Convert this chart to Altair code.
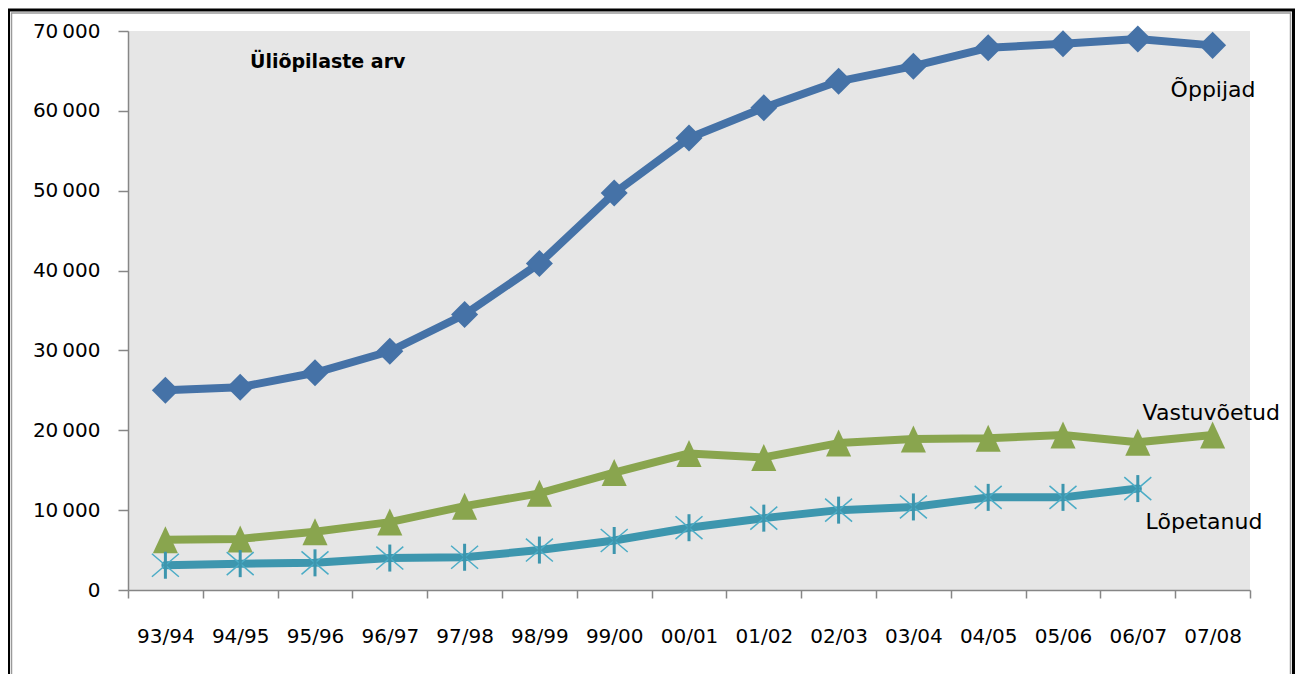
import altair as alt
import pandas as pd

years = ["93/94", "94/95", "95/96", "96/97", "97/98", "98/99", "99/00", "00/01",
         "01/02", "02/03", "03/04", "04/05", "05/06", "06/07", "07/08"]
oppijad = [25000, 25400, 27200, 29900, 34500, 40900, 49700, 56600, 60400, 63700,
           65600, 67900, 68400, 69000, 68200]
vastuvoetud = [6300, 6400, 7300, 8500, 10500, 12100, 14700, 17100, 16600, 18400,
               18900, 19000, 19400, 18500, 19400]
lopetanud = [3100, 3300, 3400, 4000, 4100, 5000, 6200, 7800, 9000, 10000,
             10400, 11600, 11600, 12700, None]

series_names = ["Õppijad", "Vastuvõetud", "Lõpetanud"]
series_colors = ["#4572A7", "#89A54E", "#3D96AE"]
label_values = [62600, 22200, 8500]
label_dx = [-42, -70, -67]

rows = []
for name, vals in zip(series_names, [oppijad, vastuvoetud, lopetanud]):
    for y, v in zip(years, vals):
        if v is not None:
            rows.append({"aasta": y, "seeria": name, "arv": v})
df = pd.DataFrame(rows)

FONT = "DejaVu Sans"

x_enc = alt.X("aasta:N", sort=years,
              scale=alt.Scale(type="band", paddingInner=0, paddingOuter=0),
              axis=alt.Axis(title=None, tickBand="extent", labelAngle=0,
                            labelFontSize=20, labelFont=FONT, labelColor="#000000",
                            domainColor="#868686", tickColor="#868686", tickSize=8,
                            labelPadding=28, domainWidth=1.5, tickWidth=1.5))
y_enc = alt.Y("arv:Q",
              scale=alt.Scale(domain=[0, 70000], nice=False),
              axis=alt.Axis(title=None, values=list(range(0, 70001, 10000)), grid=False,
                            labelFontSize=20, labelFont=FONT, labelColor="#000000",
                            domainColor="#868686", tickColor="#868686", tickSize=10,
                            labelPadding=18, domainWidth=1.5, tickWidth=1.5,
                            labelExpr="replace(format(datum.value, ','), ',', '\u2009')"))
color_enc = alt.Color("seeria:N", scale=alt.Scale(domain=series_names, range=series_colors),
                      legend=None)

base = alt.Chart(df)

lines = base.mark_line(strokeWidth=8, strokeJoin="round", strokeCap="round").encode(
    x=x_enc, y=y_enc, color=color_enc, detail="seeria:N")

diamonds = base.transform_filter(alt.datum.seeria == "Õppijad").mark_point(
    shape="diamond", filled=True, size=730, opacity=1, color="#4572A7").encode(
    x=alt.X("aasta:N", sort=years), y="arv:Q")

triangles = base.transform_filter(alt.datum.seeria == "Vastuvõetud").mark_point(
    shape="M0,-1L-0.93,1L0.93,1Z", filled=True, size=729, opacity=1, color="#89A54E").encode(
    x=alt.X("aasta:N", sort=years), y="arv:Q")

star_x = base.transform_filter(alt.datum.seeria == "Lõpetanud").mark_point(
    shape="M-1,-0.85L1,0.85M-1,0.85L1,-0.85", filled=False, size=729, opacity=1,
    strokeWidth=1.5, color="#4BACC6").encode(
    x=alt.X("aasta:N", sort=years), y="arv:Q")

star_v = base.transform_filter(alt.datum.seeria == "Lõpetanud").mark_point(
    shape="M0,-1L0,1", filled=False, size=729, opacity=1,
    strokeWidth=3, color="#3D96AE").encode(
    x=alt.X("aasta:N", sort=years), y="arv:Q")

lab_df = pd.DataFrame({"aasta": ["07/08"] * 3, "seeria": series_names,
                       "arv": label_values, "dx": label_dx})
labels = alt.layer(*[
    alt.Chart(lab_df[lab_df.seeria == n]).mark_text(
        align="left", baseline="middle", font=FONT, fontSize=22, color="#000000", dx=d
    ).encode(x=alt.X("aasta:N", sort=years), y="arv:Q", text="seeria:N")
    for n, d in zip(series_names, label_dx)
])

title = alt.Chart(pd.DataFrame({"t": ["Üliõpilaste arv"]})).mark_text(
    align="left", baseline="middle", font=FONT, fontSize=19, fontWeight="bold",
    color="#000000").encode(x=alt.value(122), y=alt.value(31), text="t:N")

frame_outer = alt.Chart(pd.DataFrame({"a": [0]})).mark_rect(
    fill=None, stroke="#000000", strokeWidth=3, clip=False).encode(
    x=alt.value(-119.5), x2=alt.value(1165.5), y=alt.value(-21), y2=alt.value(720))
frame_inner = alt.Chart(pd.DataFrame({"a": [0]})).mark_rect(
    fill=None, stroke="#9a9a9a", strokeWidth=1.5, clip=False).encode(
    x=alt.value(-116.5), x2=alt.value(1162.5), y=alt.value(-18), y2=alt.value(720))

chart = alt.layer(
    lines, triangles, diamonds, star_x, star_v, labels, title, frame_outer, frame_inner
).properties(
    width=1122, height=559,
    padding={"left": 120, "top": 23, "right": 45, "bottom": 84},
    autosize="none",
    background="#ffffff",
).configure_view(fill="#e6e6e6", stroke=None)

chart.save("out.html", embed_options={"renderer": "svg", "actions": False})
